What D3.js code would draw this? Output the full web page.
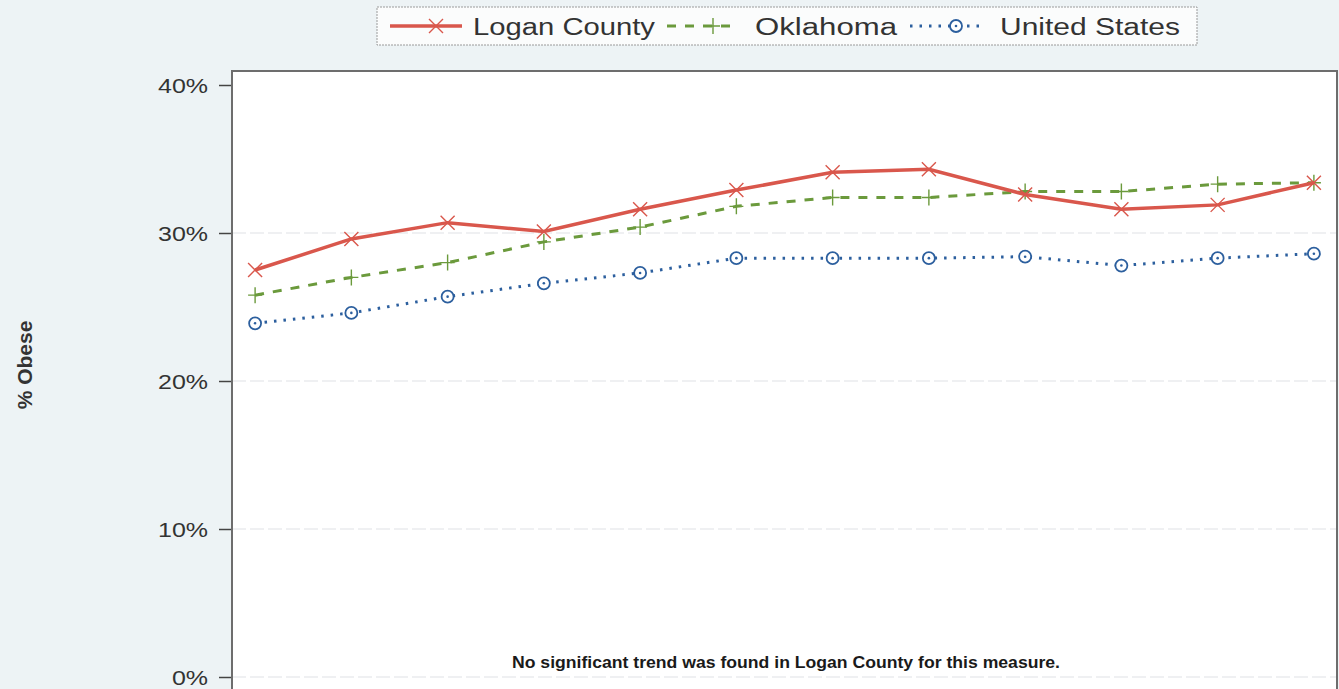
<!DOCTYPE html>
<html>
<head>
<meta charset="utf-8">
<script src="https://cdn.jsdelivr.net/npm/d3@7"></script>
<style>
  body { margin: 0; background: #edf3f5; }
  svg  { display: block; font-family: Arial, "Liberation Sans", sans-serif; }
</style>
</head>
<body>
<div class="chart"></div>
<script>
// data
var years        = ["2005", "2006", "2007", "2008", "2009", "2010", "2011", "2012", "2013", "2014", "2015", "2016"];
var loganCounty  = [27.5, 29.6, 30.7, 30.1, 31.6, 32.9, 34.1, 34.3, 32.6, 31.6, 31.9, 33.4];
var oklahoma     = [25.8, 27.0, 28.0, 29.4, 30.4, 31.8, 32.4, 32.4, 32.8, 32.8, 33.3, 33.4];
var unitedStates = [23.9, 24.6, 25.7, 26.6, 27.3, 28.3, 28.3, 28.3, 28.4, 27.8, 28.3, 28.6];
var yTicks       = [0, 10, 20, 30, 40];
var seriesNames  = ["Logan County", "Oklahoma", "United States"];

var width  = 1339,
    height = 689;

// the original is cropped, plot bottom runs past the page edge
var plot = { left: 232, right: 1337, top: 71, bottom: 730 };

var svg = d3.select(".chart")
            .append("svg")
            .attr("width", width)
            .attr("height", height);

var x = d3.scalePoint()
          .domain(years)
          .range([plot.left, plot.right])
          .padding(0.24);

var y = d3.scaleLinear()
          .domain([0, 40])
          .range([677, 85]);

// widen text a bit, the scanned original is stretched sideways
function stretch(sel, factor) {
  sel.each(function () {
    var w = this.getComputedTextLength();
    d3.select(this)
      .attr("textLength", w * factor)
      .attr("lengthAdjust", "spacingAndGlyphs");
  });
}

// plot background
svg.append("rect")
   .attr("x", plot.left)
   .attr("y", plot.top)
   .attr("width", plot.right - plot.left)
   .attr("height", plot.bottom - plot.top)
   .attr("fill", "#ffffff");

// faint grid lines
svg.selectAll("line.grid")
   .data(yTicks.filter(function (d) { return d < 40; }))
   .enter()
   .append("line")
   .attr("class", "grid")
   .attr("x1", plot.left)
   .attr("x2", plot.right)
   .attr("y1", function (d) { return y(d); })
   .attr("y2", function (d) { return y(d); })
   .attr("stroke", "#eaecee")
   .attr("stroke-width", 1.5)
   .attr("stroke-dasharray", "14,4");

// y axis
var yAxis = d3.axisLeft(y)
              .tickValues(yTicks)
              .tickFormat(function (d) { return d + "%"; })
              .tickSize(13)
              .tickPadding(11);

var gy = svg.append("g")
            .attr("transform", "translate(" + plot.left + ",0)")
            .call(yAxis);

gy.select(".domain").remove();
gy.selectAll(".tick line").attr("stroke", "#444").attr("stroke-width", 1.5);
gy.selectAll(".tick text")
  .attr("fill", "#333")
  .style("font-size", "21px")
  .attr("dy", "0.36em")
  .call(stretch, 1.19);

// plot frame
svg.append("rect")
   .attr("x", plot.left)
   .attr("y", plot.top)
   .attr("width", plot.right - plot.left)
   .attr("height", plot.bottom - plot.top)
   .attr("fill", "none")
   .attr("stroke", "#6d6d6d")
   .attr("stroke-width", 2);

// y axis title
svg.append("text")
   .attr("transform", "translate(32,365) rotate(-90)")
   .attr("text-anchor", "middle")
   .attr("fill", "#333")
   .style("font-size", "21px")
   .style("font-weight", "bold")
   .text("% Obese");

var series = [
  { name: seriesNames[0], values: loganCounty,  color: "#d9574c", width: 3.5, dash: null,  marker: "x" },
  { name: seriesNames[1], values: oklahoma,     color: "#6b9a3c", width: 3,   dash: "9,9", marker: "plus" },
  { name: seriesNames[2], values: unitedStates, color: "#2c5f9e", width: 3,   dash: "2.5,7", marker: "circle" }
];

var line = d3.line()
             .x(function (d, i) { return x(years[i]); })
             .y(function (d) { return y(d); });

function drawMarker(g, type, color) {
  if (type === "x") {
    g.append("path").attr("d", "M-7,-7L7,7M-7,7L7,-7")
     .attr("stroke", color).attr("stroke-width", 1.4).attr("fill", "none");
  } else if (type === "plus") {
    g.append("path").attr("d", "M-7,0L7,0M0,-8L0,8")
     .attr("stroke", color).attr("stroke-width", 1.4).attr("fill", "none");
  } else {
    g.append("circle").attr("r", 6)
     .attr("stroke", color).attr("stroke-width", 1.8).attr("fill", "#fff");
    g.append("circle").attr("r", 1.3).attr("fill", color);
  }
}

// US first so Logan County sits on top
series.slice().reverse().forEach(function (s) {
  svg.append("path")
     .datum(s.values)
     .attr("d", line)
     .attr("fill", "none")
     .attr("stroke", s.color)
     .attr("stroke-width", s.width)
     .attr("stroke-dasharray", s.dash);

  svg.selectAll(null)
     .data(s.values)
     .enter()
     .append("g")
     .attr("transform", function (d, i) { return "translate(" + x(years[i]) + "," + y(d) + ")"; })
     .each(function () { drawMarker(d3.select(this), s.marker, s.color); });
});

// legend
var legend = svg.append("g");
legend.append("rect")
      .attr("x", 377)
      .attr("y", 7)
      .attr("width", 820)
      .attr("height", 38)
      .attr("fill", "#fbfcfc")
      .attr("stroke", "#9a9a9a")
      .attr("stroke-width", 1)
      .attr("stroke-dasharray", "2,1");

var legendItems = [
  { lineX: 390, textX: 473, textW: 182 },
  { lineX: 667, textX: 755, textW: 142 },
  { lineX: 910, textX: 1000, textW: 180 }
];

series.forEach(function (s, i) {
  var item = legend.append("g");
  var lx = legendItems[i].lineX;
  item.append("line")
      .attr("x1", lx).attr("x2", lx + 72)
      .attr("y1", 26).attr("y2", 26)
      .attr("stroke", s.color)
      .attr("stroke-width", s.width)
      .attr("stroke-dasharray", s.dash);
  var m = item.append("g").attr("transform", "translate(" + (lx + 46) + ",26)");
  drawMarker(m, s.marker, s.color);
  item.append("text")
      .attr("x", legendItems[i].textX)
      .attr("y", 27)
      .attr("dy", "0.36em")
      .attr("fill", "#333")
      .style("font-size", "23px")
      .attr("textLength", legendItems[i].textW)
      .attr("lengthAdjust", "spacingAndGlyphs")
      .text(s.name);
});

// footnote
svg.append("text")
   .attr("x", 786)
   .attr("y", 668)
   .attr("text-anchor", "middle")
   .attr("fill", "#1a1a1a")
   .style("font-family", "'Liberation Sans Narrow', Arial, sans-serif")
   .style("font-size", "16px")
   .style("font-weight", "bold")
   .attr("textLength", 548)
   .attr("lengthAdjust", "spacingAndGlyphs")
   .text("No significant trend was found in Logan County for this measure.");
</script>
</body>
</html>
